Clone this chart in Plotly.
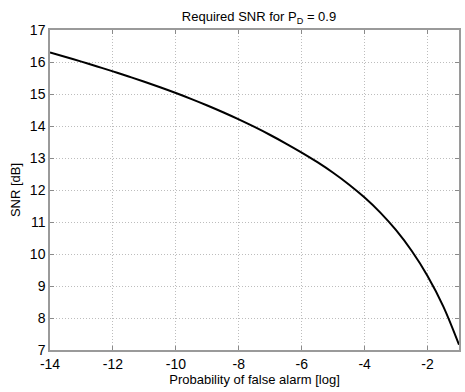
import plotly.graph_objects as go

log_pfa = [-14, -13.5, -13, -12.5, -12, -11.5, -11, -10.5, -10, -9.5, -9, -8.5, -8, -7.5,
           -7, -6.5, -6, -5.5, -5, -4.5, -4, -3.5, -3, -2.5, -2, -1.5, -1]
snr_db = [16.300, 16.157, 16.011, 15.861, 15.707, 15.548, 15.383, 15.211, 15.031, 14.841,
          14.641, 14.430, 14.207, 13.970, 13.719, 13.452, 13.169, 12.869, 12.539, 12.174,
          11.764, 11.294, 10.744, 10.094, 9.314, 8.364, 7.164]

x_ticks = [-14, -12, -10, -8, -6, -4, -2]
y_ticks = [7, 8, 9, 10, 11, 12, 13, 14, 15, 16, 17]

FONT = "Liberation Sans, Arial, sans-serif"

fig = go.Figure()
fig.add_trace(go.Scatter(
    x=log_pfa, y=snr_db, mode="lines",
    line=dict(color="black", width=2, shape="spline", smoothing=1.0),
    showlegend=False, hoverinfo="skip",
))

axis_common = dict(
    showgrid=True, gridcolor="#bdbdbd", griddash="1px,2px", gridwidth=1,
    showline=True, linecolor="#9a9a9a", linewidth=1.5, mirror="ticks",
    ticks="inside", ticklen=4, tickcolor="#8a8a8a", tickwidth=1,
    zeroline=False, tickfont=dict(family=FONT, size=14, color="black"),
)

fig.update_layout(
    width=465, height=392,
    margin=dict(l=50, r=4, t=30, b=42),
    paper_bgcolor="white", plot_bgcolor="white",
    title=dict(text="Required SNR for P<sub>D</sub> = 0.9", x=0.557, xanchor="center",
               y=0.97, yanchor="top", font=dict(family=FONT, size=13, color="black")),
    xaxis=dict(range=[-14, -1], tickvals=x_ticks, ticktext=[str(v) for v in x_ticks],
               title=dict(text="Probability of false alarm [log]", standoff=0,
                          font=dict(family=FONT, size=13, color="black")),
               **axis_common),
    yaxis=dict(range=[7, 17], tickvals=y_ticks, ticktext=[str(v) for v in y_ticks],
               title=dict(text="SNR [dB]", standoff=6,
                          font=dict(family=FONT, size=13, color="black")),
               **axis_common),
)

fig.write_html("out.html")
